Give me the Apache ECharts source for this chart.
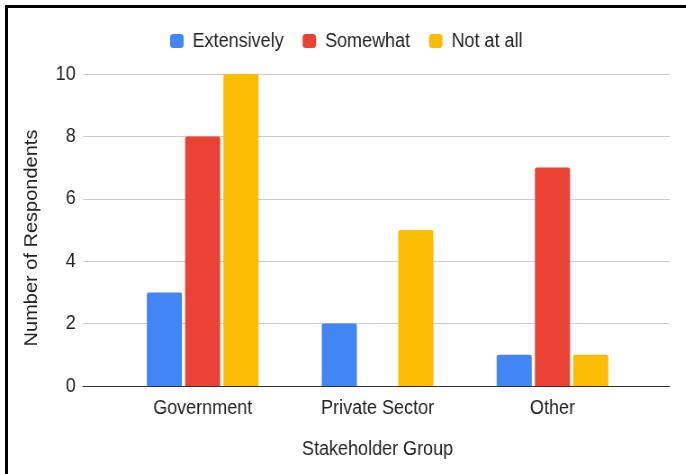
<!DOCTYPE html>
<html>
<head>
<meta charset="utf-8">
<script src="https://cdn.jsdelivr.net/npm/echarts@6/dist/echarts.min.js"></script>
<style>
  html, body { margin: 0; padding: 0; background: #fff; overflow: hidden; }
  /* chart is laid out wider and squeezed horizontally for a condensed look */
  #chart { position: absolute; left: 0; top: 0; width: 762px; height: 474px;
           transform: scaleX(0.9); transform-origin: 0 0; }
  #frame { position: absolute; left: 5px; top: 5px; width: 681px; height: 469px;
           border-top: 3px solid #000; border-left: 3px solid #000; box-sizing: border-box;
           pointer-events: none; }
</style>
</head>
<body>
<div id="chart"></div>
<div id="frame"></div>
<script>
// Survey responses by stakeholder group
const categories = ['Government', 'Private Sector', 'Other'];
const seriesNames = ['Extensively', 'Somewhat', 'Not at all'];
const extensively = [3, 2, 1];
const somewhat = [8, 0, 7];
const notAtAll = [10, 5, 1];
const yTicks = [0, 2, 4, 6, 8, 10];

const colors = ['#4285F4', '#EA4335', '#FBBC04'];
const font = '"Liberation Sans", Arial, sans-serif';
const textColor = '#222';
const fontSize = 20;

const chart = echarts.init(document.getElementById('chart'));

const values = [extensively, somewhat, notAtAll];

chart.setOption({
  animation: false,
  color: colors,
  textStyle: { fontFamily: font },
  legend: {
    top: 26,
    left: 184,
    icon: 'roundRect',
    itemWidth: 15,
    itemHeight: 14,
    itemGap: 21,
    textStyle: { fontSize: fontSize, color: textColor, fontFamily: font, padding: [0, 0, 0, 5] },
    data: seriesNames
  },
  grid: [
    // wide grid carrying the gridlines, value labels and baseline
    { left: 92, right: 18, top: 74, bottom: 88 },
    // inner grid carrying the categories and bars
    { left: 128, right: 51, top: 74, bottom: 88 }
  ],
  xAxis: [
    {
      gridIndex: 0, type: 'value', min: 0, max: 1,
      axisLine: { show: true, lineStyle: { color: '#333', width: 1 } },
      axisTick: { show: false }, axisLabel: { show: false }, splitLine: { show: false }
    },
    {
      gridIndex: 1, type: 'category', data: categories,
      axisLine: { show: false }, axisTick: { show: false },
      axisLabel: { fontSize: fontSize, color: textColor, margin: 12, fontFamily: font },
      name: 'Stakeholder Group', nameLocation: 'middle', nameGap: 53,
      nameTextStyle: { fontSize: fontSize, color: textColor, fontFamily: font }
    }
  ],
  yAxis: [
    {
      gridIndex: 0, type: 'value', min: yTicks[0], max: yTicks[yTicks.length - 1], interval: 2,
      axisLine: { show: false }, axisTick: { show: false },
      axisLabel: { fontSize: fontSize, color: textColor, margin: 8, fontFamily: font },
      splitLine: { lineStyle: { color: '#cccccc', width: 1 } },
      name: 'Number of Respondents', nameLocation: 'middle', nameGap: 47,
      nameTextStyle: { fontSize: fontSize, color: textColor, fontFamily: font, padding: [0, 16, 0, 0] }
    },
    {
      gridIndex: 1, type: 'value', min: yTicks[0], max: yTicks[yTicks.length - 1],
      show: false
    }
  ],
  series: seriesNames.map((name, i) => ({
    name: name,
    type: 'bar',
    xAxisIndex: 1,
    yAxisIndex: 1,
    data: values[i],
    barWidth: 39,
    barGap: '9%',
    itemStyle: { color: colors[i], borderRadius: [2, 2, 0, 0] }
  }))
});
</script>
</body>
</html>
